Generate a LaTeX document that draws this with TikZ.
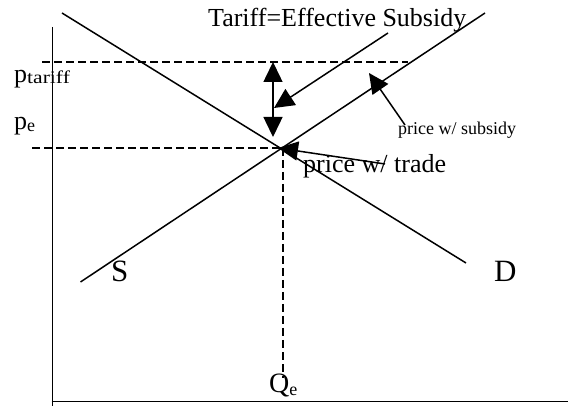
\documentclass[tikz,border=0pt]{standalone}
\usepackage{fontspec}
\setmainfont{Liberation Serif}
\usetikzlibrary{arrows.meta}
\begin{document}
\begin{tikzpicture}[x=1pt,y=-1pt,
  axisline/.style={line width=1.5pt},
  curve/.style={line width=1.5pt},
  dashline/.style={line width=1.5pt, dash pattern=on 8pt off 4pt},
  arr/.style={line width=1.5pt, -{Triangle[length=20pt,width=19pt]}},
  dblarr/.style={line width=1.5pt, {Triangle[length=20pt,width=19pt]}-{Triangle[length=20pt,width=19pt]}},
  lbl/.style={inner sep=0pt, anchor=base west},
]
\useasboundingbox (0,0) rectangle (568,406);
% axes
\coordinate (ytop) at (52.5,27);
\coordinate (ybot) at (52.5,406);
\coordinate (xl) at (51.5,401.5);
\coordinate (xr) at (568,401.5);
\draw[axisline] (ytop) -- (ybot);
\draw[axisline] (xl) -- (xr);
% supply and demand
\coordinate (s1) at (80.5,282);
\coordinate (s2) at (485,13);
\coordinate (d1) at (62,13);
\coordinate (d2) at (466,263);
\draw[curve] (s1) -- (s2);
\draw[curve] (d1) -- (d2);
% dashed guides
\coordinate (pt1) at (42,62);
\coordinate (pt2) at (408,62);
\coordinate (pe1) at (32,148);
\coordinate (pe2) at (280,148);
\coordinate (q1) at (283,148);
\coordinate (q2) at (283,378);
\draw[dashline] (pt1) -- (pt2);
\draw[dashline] (pe1) -- (pe2);
\draw[dashline] (q1) -- (q2);
% labels
\node[lbl] (tariff) at (208,27) {\fontsize{26}{30}\selectfont Tariff=Effective Subsidy};
\node[lbl] (trade) at (303,173) {\fontsize{26}{30}\selectfont price w/ trade};
\node[lbl] (subs) at (398,135) {\fontsize{18}{22}\selectfont price w/ subsidy};
\node[lbl] (S) at (111,282) {\fontsize{31}{36}\selectfont S};
\node[lbl] (D) at (494,282) {\fontsize{31}{36}\selectfont D};
\node[lbl] (ptar) at (14,83) {\fontsize{26}{30}\selectfont p\raisebox{-1pt}{\scalebox{1.2}[1]{\fontsize{18}{20}\selectfont tariff}}};
\node[lbl] (pe) at (14,130) {\fontsize{26}{30}\selectfont p\raisebox{-2pt}{\fontsize{18}{20}\selectfont e}};
\node[lbl] (Qe) at (269,392) {\fontsize{28}{32}\selectfont Q\raisebox{-3pt}{\fontsize{18}{20}\selectfont e}};
% arrows
\coordinate (dtop) at (273,62);
\coordinate (dbot) at (273,137);
\draw[dblarr] (dtop) -- (dbot);
\coordinate (ta1) at (388,33);
\coordinate (ta2) at (274,108);
\draw[arr] (ta1) -- (ta2);
\coordinate (sa1) at (405,125);
\coordinate (sa2) at (369,73);
\draw[arr] (sa1) -- (sa2);
\coordinate (tr1) at (385,164);
\coordinate (tr2) at (278,148);
\draw[arr] (tr1) -- (tr2);
\end{tikzpicture}
\end{document}
